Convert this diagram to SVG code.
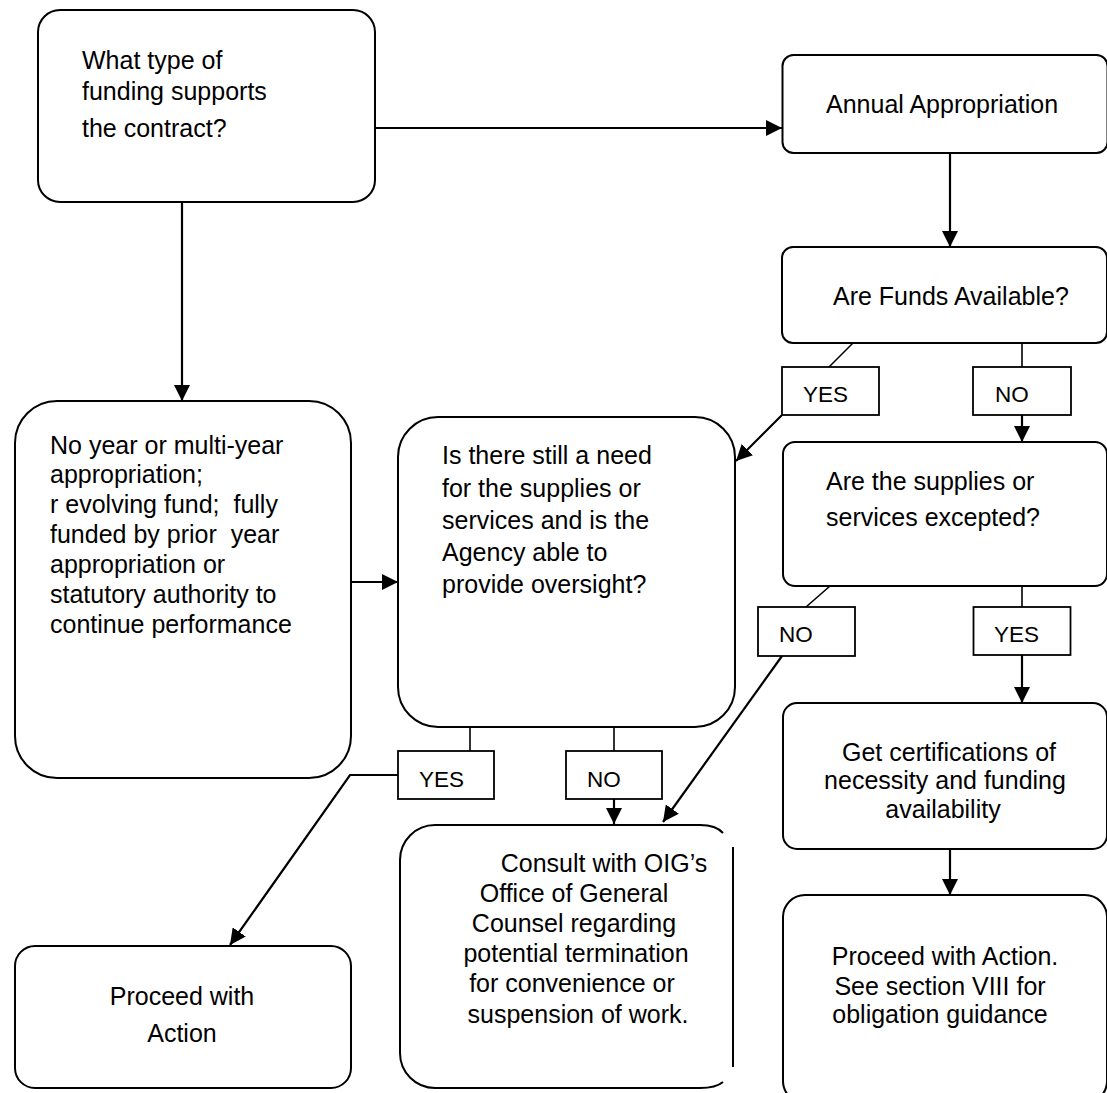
<svg xmlns="http://www.w3.org/2000/svg" width="1107" height="1093" viewBox="0 0 1107 1093">
<defs>
<style>
.box{fill:#fff;stroke:#000;stroke-width:2}
.lbl{fill:#fff;stroke:#000;stroke-width:1.8}
.t{font-family:"Liberation Sans",Arial,sans-serif;font-size:25px;fill:#000}
.tl{font-family:"Liberation Sans",Arial,sans-serif;font-size:22.5px;fill:#000}
.c{text-anchor:middle}
.ln{fill:none;stroke:#000;stroke-width:2}
.stub{fill:none;stroke:#000;stroke-width:1.6}
.arr{fill:none;stroke:#000;stroke-width:2.2;marker-end:url(#ah)}
</style>
<marker id="ah" markerUnits="userSpaceOnUse" markerWidth="17" markerHeight="16" refX="16" refY="8" orient="auto">
<path d="M0,0 L16,8 L0,16 z" fill="#000"/>
</marker>
</defs>
<rect width="1107" height="1093" fill="#fff"/>

<g id="n-funding-type">
<rect class="box" x="38" y="10" width="337" height="192" rx="22"/>
<text class="t" x="82" y="69">What type of</text>
<text class="t" x="82" y="100">funding supports</text>
<text class="t" x="82" y="137">the contract?</text>
</g>

<g id="n-annual">
<rect class="box" x="782.5" y="55" width="325" height="98" rx="11"/>
<text class="t" x="826" y="113">Annual Appropriation</text>
</g>

<g id="n-funds">
<rect class="box" x="782" y="247" width="325" height="96" rx="11"/>
<text class="t" x="833" y="305">Are Funds Available?</text>
</g>

<g id="n-noyear">
<rect class="box" x="15" y="401" width="336" height="377" rx="42"/>
<text class="t" x="50" y="454">No year or multi-year</text>
<text class="t" x="50" y="483">appropriation;</text>
<text class="t" x="50" y="513" xml:space="preserve">r evolving fund;  fully</text>
<text class="t" x="50" y="543" xml:space="preserve">funded by prior  year</text>
<text class="t" x="50" y="573">appropriation or</text>
<text class="t" x="50" y="603">statutory authority to</text>
<text class="t" x="50" y="633">continue performance</text>
</g>

<g id="n-need">
<rect class="box" x="398" y="417" width="337" height="310" rx="40"/>
<text class="t" x="442" y="464">Is there still a need</text>
<text class="t" x="442" y="497">for the supplies or</text>
<text class="t" x="442" y="529">services and is the</text>
<text class="t" x="442" y="561">Agency able to</text>
<text class="t" x="442" y="593">provide oversight?</text>
</g>

<g id="n-excepted">
<rect class="box" x="783" y="442" width="324" height="144" rx="12"/>
<text class="t" x="826" y="490">Are the supplies or</text>
<text class="t" x="826" y="526">services excepted?</text>
</g>

<g id="n-certs">
<rect class="box" x="783" y="703" width="324" height="146" rx="14"/>
<text class="t c" x="949" y="761">Get certifications of</text>
<text class="t c" x="945" y="789">necessity and funding</text>
<text class="t c" x="943" y="818">availability</text>
</g>

<g id="n-proceed-right">
<rect class="box" x="783" y="895" width="324" height="208" rx="22"/>
<text class="t c" x="945" y="965">Proceed with Action.</text>
<text class="t c" x="940" y="995">See section VIII for</text>
<text class="t c" x="940" y="1023">obligation guidance</text>
</g>

<g id="n-proceed-left">
<rect class="box" x="15" y="946" width="336" height="142" rx="20"/>
<text class="t c" x="182" y="1005">Proceed with</text>
<text class="t c" x="182" y="1042">Action</text>
</g>

<g id="n-consult">
<path class="box" d="M723,833 Q716,825 700,825 L435,825 A35,35 0 0 0 400,860 L400,1053 A35,35 0 0 0 435,1088 L700,1088 Q716,1088 723,1082"/>
<line class="ln" x1="733" y1="847" x2="733" y2="1067"/>
<text class="t c" x="604" y="872">Consult with OIG’s</text>
<text class="t c" x="574" y="902">Office of General</text>
<text class="t c" x="574" y="932">Counsel regarding</text>
<text class="t c" x="576" y="962">potential termination</text>
<text class="t c" x="572" y="992">for convenience or</text>
<text class="t c" x="578" y="1023">suspension of work.</text>
</g>

<g id="connectors">
<line class="arr" x1="375" y1="128" x2="782" y2="128"/>
<line class="arr" x1="182" y1="202" x2="182" y2="401"/>
<line class="arr" x1="950" y1="153" x2="950" y2="247"/>
<line class="stub" x1="853" y1="343" x2="829" y2="367"/>
<line class="arr" x1="782" y1="415" x2="736" y2="461"/>
<line class="stub" x1="1022" y1="343" x2="1022" y2="367"/>
<line class="arr" x1="1022" y1="415" x2="1022" y2="442"/>
<line class="stub" x1="830" y1="586" x2="806" y2="607"/>
<line class="arr" x1="782" y1="656" x2="663" y2="822"/>
<line class="stub" x1="1022" y1="586" x2="1022" y2="607"/>
<line class="arr" x1="1022" y1="654" x2="1022" y2="703"/>
<polygon points="1012,642 1004.5,654 1022,654" fill="#000"/>
<line class="arr" x1="950" y1="849" x2="950" y2="895"/>
<line class="arr" x1="351" y1="582" x2="398" y2="582"/>
<line class="stub" x1="470" y1="727" x2="470" y2="751"/>
<polyline class="arr" points="398,775 350,775 230,945"/>
<line class="stub" x1="614" y1="727" x2="614" y2="751"/>
<line class="arr" x1="614" y1="799" x2="614" y2="824"/>
<polygon points="599,794 609.5,785 614,799" fill="#000"/>
</g>

<g id="labels">
<rect class="lbl" x="782" y="367" width="97" height="48"/>
<text class="tl" x="803" y="402">YES</text>
<rect class="lbl" x="973" y="367" width="98" height="48"/>
<text class="tl" x="995" y="402">NO</text>
<rect class="lbl" x="758" y="607" width="97" height="49"/>
<text class="tl" x="779" y="642">NO</text>
<rect class="lbl" x="973.5" y="607" width="97" height="48"/>
<text class="tl" x="994" y="642">YES</text>
<rect class="lbl" x="398" y="751" width="96" height="48"/>
<text class="tl" x="419" y="787">YES</text>
<rect class="lbl" x="566" y="751" width="96" height="48"/>
<text class="tl" x="587" y="787">NO</text>
</g>
</svg>
